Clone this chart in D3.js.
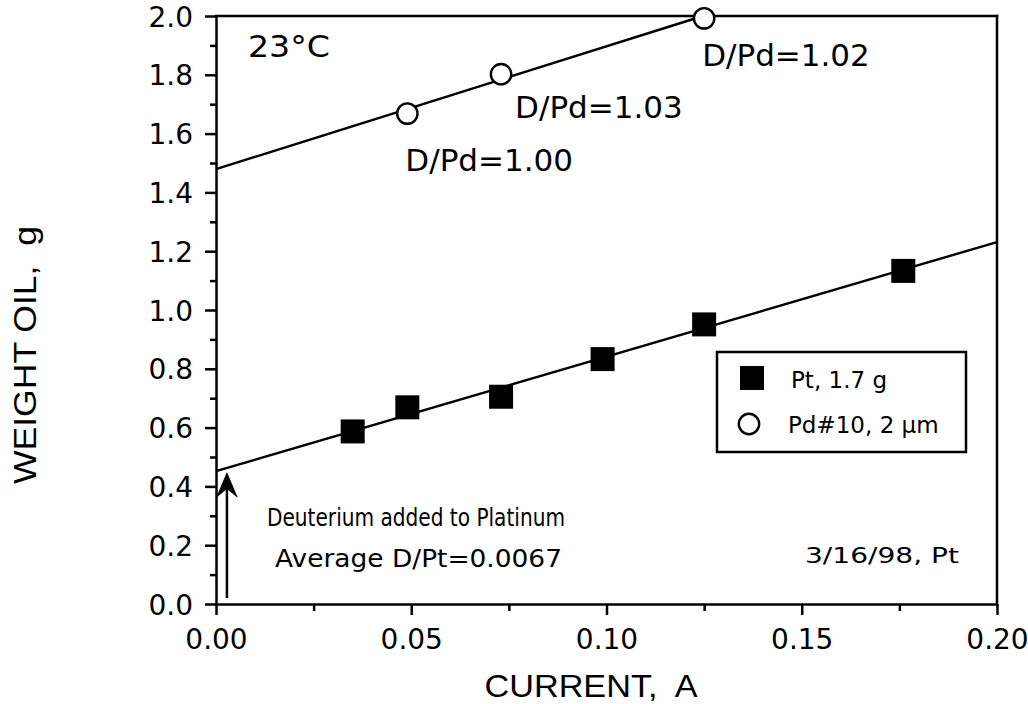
<!DOCTYPE html>
<html>
<head>
<meta charset="utf-8">
<script src="https://cdn.jsdelivr.net/npm/d3@7"></script>
<style>
  body { margin: 0; background: #fff; }
  svg { display: block; }
</style>
</head>
<body>
<div id="chart"></div>
<script>
// Pt cathode, 1.7 g (filled squares)
const ptCurrent = [0.035, 0.049, 0.073, 0.099, 0.125, 0.176];
const ptWeight  = [0.587, 0.669, 0.705, 0.833, 0.951, 1.133];
// Pd#10 cathode, 2 µm (open circles)
const pdCurrent = [0.049, 0.073, 0.125];
const pdWeight  = [1.668, 1.802, 1.992];
const pdLabels  = ["D/Pd=1.00", "D/Pd=1.03", "D/Pd=1.02"];
// fitted lines, end points
const ptFitX = [0, 0.2];
const ptFitY = [0.452, 1.231];
const pdFitX = [0, 0.1247];
const pdFitY = [1.479, 2.0];
// ticks
const xTicks = [0, 0.05, 0.10, 0.15, 0.20];
const xMinor = [0.025, 0.075, 0.125, 0.175];
const yTicks = [0, 0.2, 0.4, 0.6, 0.8, 1.0, 1.2, 1.4, 1.6, 1.8, 2.0];
const yMinor = [0.1, 0.3, 0.5, 0.7, 0.9, 1.1, 1.3, 1.5, 1.7, 1.9];
const legendNames = ["Pt, 1.7 g", "Pd#10, 2 µm"];

const W = 1028, H = 704;
const svg = d3.select("#chart").append("svg").attr("width", W).attr("height", H);

const x = d3.scaleLinear().domain([0, 0.2]).range([216, 997]);
const y = d3.scaleLinear().domain([0, 2]).range([604, 16]);

// minor ticks first
svg.append("g").attr("transform", "translate(0,604)")
  .call(d3.axisBottom(x).tickValues(xMinor).tickSize(7).tickFormat(""))
  .call(g => g.select(".domain").remove())
  .selectAll("line").attr("stroke-width", 2.5);
svg.append("g").attr("transform", "translate(216,0)")
  .call(d3.axisLeft(y).tickValues(yMinor).tickSize(6).tickFormat(""))
  .call(g => g.select(".domain").remove())
  .selectAll("line").attr("stroke-width", 2.5);

// major axes
const xAxis = svg.append("g").attr("transform", "translate(0,604)")
  .call(d3.axisBottom(x).tickValues(xTicks).tickSize(11).tickPadding(14).tickSizeOuter(0)
    .tickFormat(d3.format(".2f")));
const yAxis = svg.append("g").attr("transform", "translate(216,0)")
  .call(d3.axisLeft(y).tickValues(yTicks).tickSize(11).tickPadding(12).tickSizeOuter(0)
    .tickFormat(d3.format(".1f")));
[xAxis, yAxis].forEach(a => {
  a.select(".domain").attr("stroke-width", 2.5);
  a.selectAll(".tick line").attr("stroke-width", 2.5);
  a.attr("font-family", "DejaVu Sans, sans-serif").attr("font-size", 28);
  a.selectAll(".tick text").attr("fill", "#000");
});
yAxis.selectAll(".tick text").attr("dy", "0.36em");

// frame top + right
svg.append("line").attr("x1", x(0)).attr("x2", x(0.2)).attr("y1", y(2)).attr("y2", y(2))
  .attr("stroke", "#000").attr("stroke-width", 2.5).attr("stroke-linecap", "square");
svg.append("line").attr("x1", x(0.2)).attr("x2", x(0.2)).attr("y1", y(2)).attr("y2", y(0))
  .attr("stroke", "#000").attr("stroke-width", 2.5).attr("stroke-linecap", "square");

// fit lines
const line = d3.line().x(d => x(d[0])).y(d => y(d[1]));
svg.append("path").datum(d3.zip(ptFitX, ptFitY)).attr("d", line)
  .attr("fill", "none").attr("stroke", "#000").attr("stroke-width", 2.4);
svg.append("path").datum(d3.zip(pdFitX, pdFitY)).attr("d", line)
  .attr("fill", "none").attr("stroke", "#000").attr("stroke-width", 2.4);

// Pt squares
const sq = 24;
svg.selectAll("rect.pt").data(d3.zip(ptCurrent, ptWeight)).enter().append("rect")
  .attr("class", "pt")
  .attr("x", d => x(d[0]) - sq / 2).attr("y", d => y(d[1]) - sq / 2)
  .attr("width", sq).attr("height", sq).attr("fill", "#000");

// Pd circles
svg.selectAll("circle.pd").data(d3.zip(pdCurrent, pdWeight)).enter().append("circle")
  .attr("class", "pd")
  .attr("cx", d => x(d[0])).attr("cy", d => y(d[1])).attr("r", 10.2)
  .attr("fill", "#fff").attr("stroke", "#000").attr("stroke-width", 2.4);

// D/Pd labels (offsets from each circle)
const labelOffsets = [[-2, 57], [14, 44], [-2, 48]];
svg.selectAll("text.pdlab").data(pdLabels).enter().append("text")
  .attr("class", "pdlab")
  .attr("x", (d, i) => x(pdCurrent[i]) + labelOffsets[i][0])
  .attr("y", (d, i) => y(pdWeight[i]) + labelOffsets[i][1])
  .attr("font-family", "DejaVu Sans, sans-serif").attr("font-size", 31)
  .text(d => d);

// temperature
svg.append("text").attr("x", 248).attr("y", 57)
  .attr("font-family", "DejaVu Sans, sans-serif").attr("font-size", 31)
  .attr("textLength", 82).attr("lengthAdjust", "spacingAndGlyphs").text("23°C");

// arrow: deuterium added
const arrowX = 0.0028;
svg.append("line").attr("x1", x(arrowX)).attr("x2", x(arrowX))
  .attr("y1", y(0.02)).attr("y2", y(0.40))
  .attr("stroke", "#000").attr("stroke-width", 2.5);
const ax = x(arrowX), ay = y(0.449);
svg.append("path")
  .attr("d", `M${ax},${ay} L${ax + 11},${ay + 26} L${ax},${ay + 17} L${ax - 11},${ay + 26} Z`)
  .attr("fill", "#000");

svg.append("text").attr("x", 267).attr("y", 526)
  .attr("font-family", "DejaVu Sans, sans-serif").attr("font-size", 25)
  .attr("textLength", 298).attr("lengthAdjust", "spacingAndGlyphs")
  .text("Deuterium added to Platinum");
svg.append("text").attr("x", 275).attr("y", 567)
  .attr("font-family", "DejaVu Sans, sans-serif").attr("font-size", 25)
  .attr("textLength", 287).attr("lengthAdjust", "spacingAndGlyphs")
  .text("Average D/Pt=0.0067");

svg.append("text").attr("x", 959).attr("y", 563).attr("text-anchor", "end")
  .attr("font-family", "DejaVu Sans, sans-serif").attr("font-size", 22)
  .attr("textLength", 154).attr("lengthAdjust", "spacingAndGlyphs")
  .text("3/16/98, Pt");

// legend
const legend = svg.append("g").attr("transform", "translate(717,352)");
legend.append("rect").attr("width", 249).attr("height", 100)
  .attr("fill", "#fff").attr("stroke", "#000").attr("stroke-width", 2.5);
legend.append("rect").attr("x", 35 - 12).attr("y", 26 - 12).attr("width", 24).attr("height", 24)
  .attr("fill", "#000");
legend.append("circle").attr("cx", 32).attr("cy", 72).attr("r", 10.2)
  .attr("fill", "#fff").attr("stroke", "#000").attr("stroke-width", 2.4);
legend.selectAll("text").data(legendNames).enter().append("text")
  .attr("x", (d, i) => i === 0 ? 74 : 71)
  .attr("y", (d, i) => i === 0 ? 36 : 81)
  .attr("font-family", "DejaVu Sans, sans-serif").attr("font-size", 23)
  .text(d => d);

// axis titles
svg.append("text").attr("x", 591).attr("y", 697).attr("text-anchor", "middle")
  .attr("font-family", "Liberation Sans, Arial, sans-serif").attr("font-size", 32)
  .attr("textLength", 213).attr("lengthAdjust", "spacingAndGlyphs")
  .text("CURRENT,  A").style("white-space", "pre");
svg.append("text")
  .attr("transform", "translate(36,355) rotate(-90)").attr("text-anchor", "middle")
  .attr("font-family", "Liberation Sans, Arial, sans-serif").attr("font-size", 31)
  .attr("textLength", 258).attr("lengthAdjust", "spacingAndGlyphs")
  .text("WEIGHT OIL,  g").style("white-space", "pre");
</script>
</body>
</html>
